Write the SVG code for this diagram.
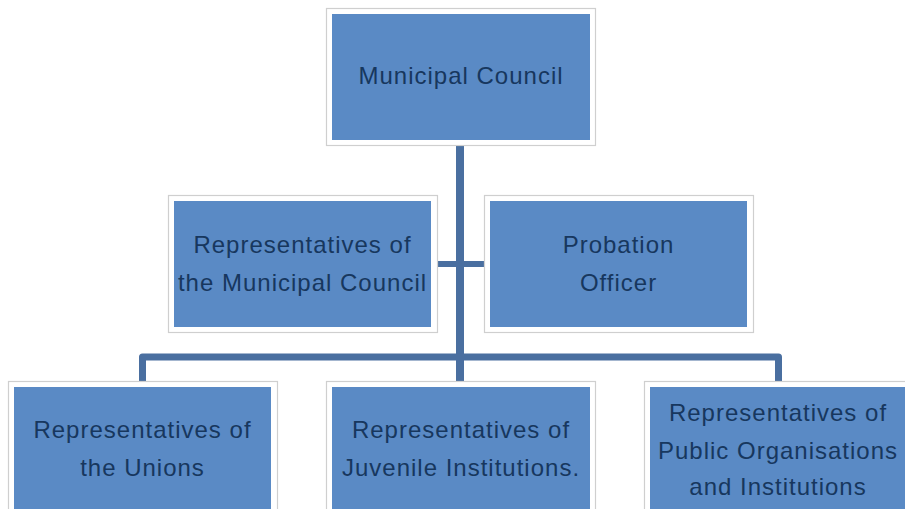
<svg xmlns="http://www.w3.org/2000/svg" width="905" height="509" viewBox="0 0 905 509">
<style>
.frame{fill:#ffffff;stroke:#cfcfcf;stroke-width:1.2}
.box{fill:#5a8ac5}
.t{font-family:"Liberation Sans",Arial,sans-serif;font-size:24px;letter-spacing:1px;fill:#17375e;text-anchor:middle}
.c{fill:none;stroke:#4a6fa0;stroke-linejoin:round;stroke-linecap:butt}
</style>
<rect width="905" height="509" fill="#ffffff"/>
<g id="connectors">
<line class="c" x1="460" y1="146" x2="460" y2="381" stroke-width="8"/>
<line class="c" x1="437" y1="264" x2="484" y2="264" stroke-width="6"/>
<path class="c" d="M142.5,381 V357 H778.5 V381" stroke-width="7"/>
</g>
<g id="municipal-council">
<rect class="frame" x="326.5" y="8.5" width="269" height="137"/>
<rect class="box" x="332" y="14" width="258" height="126"/>
<text class="t" x="461" y="84">Municipal Council</text>
</g>
<g id="reps-municipal-council">
<rect class="frame" x="168.5" y="195.5" width="269" height="137"/>
<rect class="box" x="174" y="201" width="257" height="126"/>
<text class="t" x="302.5" y="253">Representatives of</text>
<text class="t" x="302.5" y="291">the Municipal Council</text>
</g>
<g id="probation-officer">
<rect class="frame" x="484.5" y="195.5" width="269" height="137"/>
<rect class="box" x="490" y="201" width="257" height="126"/>
<text class="t" x="618.5" y="253">Probation</text>
<text class="t" x="618.5" y="291">Officer</text>
</g>
<g id="reps-unions">
<rect class="frame" x="8.5" y="381.5" width="269" height="140"/>
<rect class="box" x="14" y="387" width="257" height="130"/>
<text class="t" x="142.5" y="438">Representatives of</text>
<text class="t" x="142.5" y="476">the Unions</text>
</g>
<g id="reps-juvenile">
<rect class="frame" x="326.5" y="381.5" width="269" height="140"/>
<rect class="box" x="332" y="387" width="258" height="130"/>
<text class="t" x="461" y="438">Representatives of</text>
<text class="t" x="461" y="476">Juvenile Institutions.</text>
</g>
<g id="reps-public">
<rect class="frame" x="644.5" y="381.5" width="269" height="140"/>
<rect class="box" x="650" y="387" width="257" height="130"/>
<text class="t" x="778" y="421">Representatives of</text>
<text class="t" x="778" y="459">Public Organisations</text>
<text class="t" x="778" y="495">and Institutions</text>
</g>
</svg>
